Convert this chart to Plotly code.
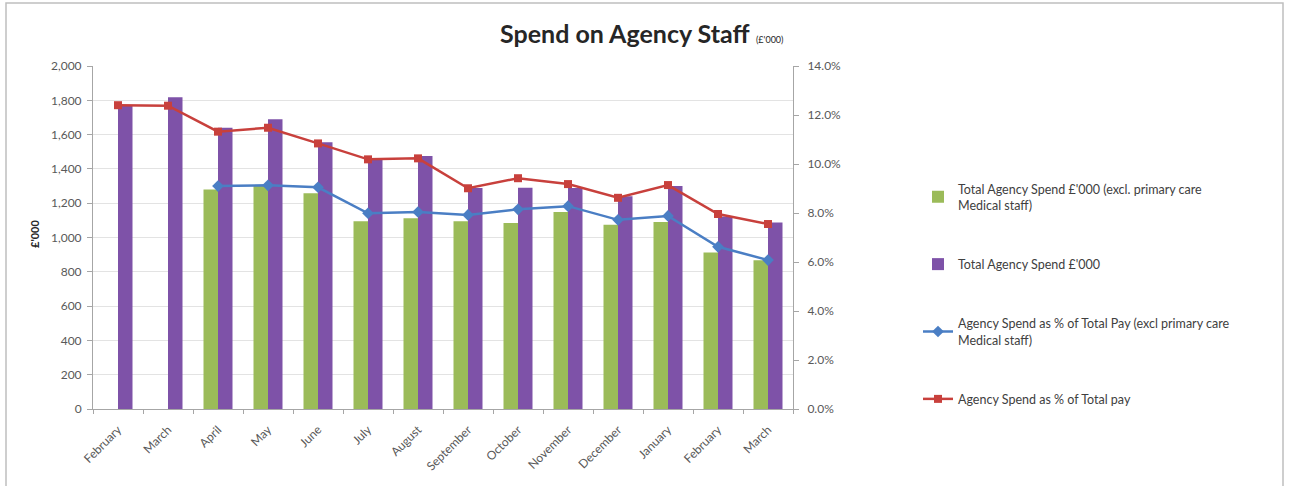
import plotly.graph_objects as go

# Months (financial year run Feb to the following March)
months = ["February", "March", "April", "May", "June", "July", "August",
          "September", "October", "November", "December", "January",
          "February", "March"]

# Spend in £'000
spend_excl_primary = [None, None, 1280, 1300, 1258, 1095, 1112,
                      1095, 1085, 1148, 1075, 1090, 912, 868]
spend_total = [1770, 1818, 1640, 1690, 1555, 1452, 1475,
               1288, 1290, 1288, 1240, 1300, 1122, 1088]

# Agency spend as % of total pay
pct_excl_primary = [None, None, 9.10, 9.13, 9.05, 7.99, 8.04,
                    7.92, 8.15, 8.28, 7.72, 7.88, 6.62, 6.08]
pct_total = [12.40, 12.38, 11.32, 11.48, 10.84, 10.19, 10.23,
             9.01, 9.42, 9.18, 8.62, 9.14, 7.96, 7.55]

left_ticks = list(range(0, 2001, 200))
right_ticks = [0, 2, 4, 6, 8, 10, 12, 14]
right_labels = ["0.0%", "2.0%", "4.0%", "6.0%", "8.0%", "10.0%", "12.0%", "14.0%"]

FONT = "Lato"
TXT = "#595959"
GREEN = "#9BBB59"
PURPLE = "#7E52A8"
BLUE = "#4A7EC4"
RED = "#C8403C"

W, H = 1291, 486
L, R, T, B = 93, 793, 66, 409  # plot area in pixels


def px(x):
    return (x - L) / (R - L)


def py(y):
    return (B - y) / (B - T)


idx = list(range(len(months)))

fig = go.Figure()
fig.add_trace(go.Bar(
    x=idx, y=spend_excl_primary, marker_color=GREEN, marker_line_width=0,
    name="Total Agency Spend £'000 (excl. primary care<br>Medical staff)",
    legendgroup="a"))
fig.add_trace(go.Bar(
    x=idx, y=spend_total, marker_color=PURPLE, marker_line_width=0,
    name="Total Agency Spend £'000", legendgroup="b"))
fig.add_trace(go.Scatter(
    x=idx, y=pct_excl_primary, yaxis="y2", mode="lines+markers",
    line=dict(color=BLUE, width=2.5),
    marker=dict(symbol="diamond", size=9, color=BLUE),
    name="Agency Spend as % of Total Pay (excl primary care<br>Medical staff)",
    legendgroup="c"))
fig.add_trace(go.Scatter(
    x=idx, y=pct_total, yaxis="y2", mode="lines+markers",
    line=dict(color=RED, width=2.5),
    marker=dict(symbol="square", size=8, color=RED),
    name="Agency Spend as % of Total pay", legendgroup="d"))

fig.update_layout(
    width=W, height=H,
    margin=dict(l=L, r=W - R, t=T, b=H - B),
    paper_bgcolor="white", plot_bgcolor="white",
    font=dict(family=FONT, size=12, color=TXT),
    barmode="group", bargap=0.42, bargroupgap=0,
    showlegend=True,
    legend=dict(x=px(918), y=py(174), xanchor="left", yanchor="top",
                font=dict(size=12.5, color="#404040"),
                tracegroupgap=40, bgcolor="rgba(0,0,0,0)"),
    xaxis=dict(
        range=[-0.5, len(months) - 0.5],
        tickmode="array", tickvals=idx, ticktext=months,
        tickangle=-45, ticks="", showgrid=False, zeroline=False,
        showline=True, linecolor="#A6A6A6", linewidth=1,
        ticklabelstandoff=8,
        tickfont=dict(size=12, color=TXT),
        minor=dict(tickmode="linear", tick0=-0.5, dtick=1, ticks="outside",
                   ticklen=4, tickcolor="#A6A6A6", showgrid=False),
    ),
    yaxis=dict(
        range=[0, 2000], tickmode="array", tickvals=left_ticks,
        tickformat=",", showgrid=True, gridcolor="#E3E3E3", gridwidth=1,
        zeroline=False, showline=True, linecolor="#A6A6A6",
        ticks="outside", ticklen=5, tickcolor="#A6A6A6",
        ticklabelstandoff=3,
        tickfont=dict(size=12, color=TXT),
    ),
    yaxis2=dict(
        range=[0, 14], overlaying="y", side="right",
        tickmode="array", tickvals=right_ticks, ticktext=right_labels,
        showgrid=False, zeroline=False, showline=True,
        linecolor="#A6A6A6", ticks="outside", ticklen=5,
        ticklabelstandoff=6,
        tickcolor="#A6A6A6", tickfont=dict(size=12, color=TXT),
    ),
    shapes=[dict(type="rect", xref="paper", yref="paper",
                 x0=px(6), x1=px(1283), y0=py(495), y1=py(3),
                 line=dict(color="#BFBFBF", width=1.5),
                 fillcolor="rgba(0,0,0,0)", layer="below")],
    annotations=[
        dict(x=px(642), y=py(33), xref="paper", yref="paper",
             text="<b>Spend on Agency Staff</b> <span style='font-size:9px'>(£'000)</span>",
             showarrow=False, xanchor="center", yanchor="middle",
             font=dict(family=FONT, size=25, color="#262626")),
        dict(x=px(34), y=py(234), xref="paper", yref="paper",
             text="<b>£'000</b>", textangle=-90, showarrow=False,
             xanchor="center", yanchor="middle",
             font=dict(family=FONT, size=11, color="#262626")),
    ],
)

fig.write_html("out.html")
